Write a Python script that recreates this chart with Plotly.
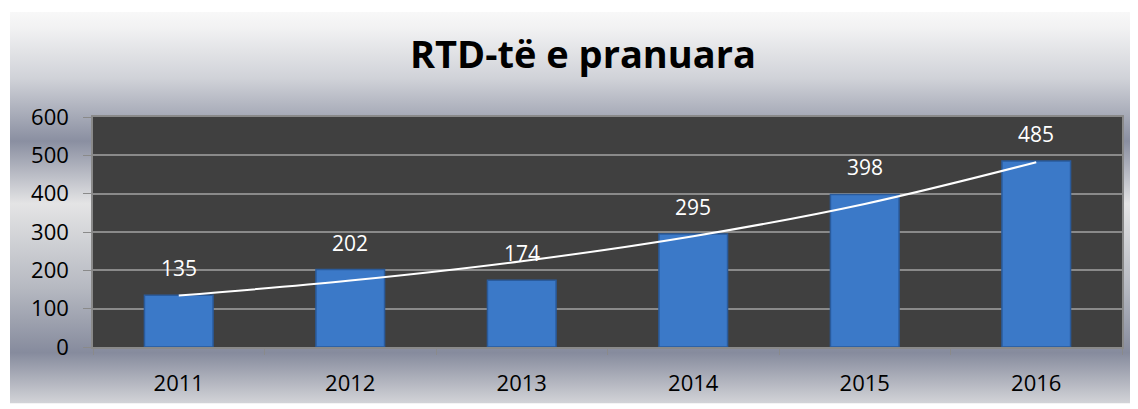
import base64
import numpy as np
import plotly.graph_objects as go

years = ["2011", "2012", "2013", "2014", "2015", "2016"]
values = [135, 202, 174, 295, 398, 485]
y_ticks = [0, 100, 200, 300, 400, 500, 600]
title_text = "RTD-të e pranuara"

# Exponential trendline (least squares on log values, like Excel)
idx = np.arange(len(values))
b, a = np.polyfit(idx, np.log(values), 1)
trend = np.exp(a + b * idx)

# page body has an 8px margin, so the figure is sized to end at the window edge
W, H = 1130, 401
L, R, T, B = 85, 16, 109, 60
pw, ph = W - L - R, H - T - B

# background gradient (silver style)
svg = """<svg xmlns='http://www.w3.org/2000/svg' width='100' height='100' preserveAspectRatio='none'>
<defs><linearGradient id='g' x1='0' y1='0' x2='0' y2='1'>
<stop offset='0' stop-color='#f8f8f8'/>
<stop offset='0.04' stop-color='#f2f2f3'/>
<stop offset='0.17' stop-color='#d0d2d8'/>
<stop offset='0.33' stop-color='#8a8fa1'/>
<stop offset='0.49' stop-color='#e4e4e5'/>
<stop offset='0.70' stop-color='#b7bac2'/>
<stop offset='0.87' stop-color='#868b9d'/>
<stop offset='1' stop-color='#d3d4d8'/>
</linearGradient></defs>
<rect x='0' y='0' width='100' height='100' fill='url(#g)'/></svg>"""
src = "data:image/svg+xml;base64," + base64.b64encode(svg.encode()).decode()

bx0, by0, bx1, by1 = 2, 3, 1130, 398
img = dict(
    source=src, xref="paper", yref="paper",
    x=(bx0 - L) / pw, y=(H - B - by0) / ph,
    sizex=(bx1 - bx0) / pw, sizey=(by1 - by0) / ph,
    xanchor="left", yanchor="top", sizing="stretch", layer="below",
)

fig = go.Figure()
fig.add_trace(go.Bar(
    x=years, y=values,
    marker=dict(color="#3b79c8", line=dict(color="#2a5b9c", width=1.5)),
    width=0.4, hoverinfo="x+y", showlegend=False,
))
fig.add_trace(go.Scatter(
    x=years, y=trend, mode="lines",
    line=dict(color="white", width=2, shape="spline"),
    showlegend=False, hoverinfo="skip",
))
for i, v in enumerate(values):
    fig.add_annotation(
        x=i, y=v, text=str(v), showarrow=False, yshift=27,
        font=dict(family="Open Sans", size=21, color="white"),
    )

# dark plot area drawn above the background image
fig.add_shape(type="rect", xref="paper", yref="paper", x0=0, x1=1, y0=0, y1=1,
              fillcolor="#404040", line=dict(width=0), layer="below")

fig.update_layout(
    width=W, height=H,
    margin=dict(l=L, r=R, t=T, b=B),
    paper_bgcolor="white",
    plot_bgcolor="rgba(0,0,0,0)",
    images=[img],
    title=dict(
        text="<b>" + title_text + "</b>",
        x=575 / W, xref="container", xanchor="center",
        y=1 - 47 / H, yref="container", yanchor="middle",
        font=dict(family="Open Sans", size=38, color="black"),
    ),
    font=dict(family="Open Sans", color="black"),
)
fig.update_yaxes(
    range=[0, 600], tickvals=y_ticks,
    showgrid=True, gridcolor="#8a8a8a", gridwidth=1.5,
    ticks="outside", ticklen=8, tickcolor="#8a8a8a",
    showline=True, linecolor="#8a8a8a", linewidth=1.5, mirror=True,
    tickfont=dict(size=22, color="black"),
    ticklabelstandoff=10, zeroline=False,
)
fig.update_xaxes(
    type="category", range=[-0.5, len(years) - 0.5], tickson="boundaries",
    ticks="outside", ticklen=6, tickcolor="#8a8a8a",
    showline=True, linecolor="#8a8a8a", linewidth=1.5, mirror=True,
    showgrid=False,
    tickfont=dict(size=22, color="black"),
    ticklabelstandoff=16,
)
fig.write_html("out.html")
